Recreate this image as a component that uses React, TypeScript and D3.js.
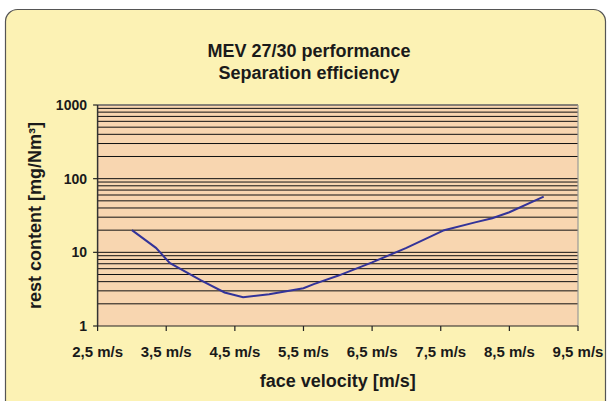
import React from "react";
import * as d3 from "d3";

// face velocity [m/s] vs rest content [mg/Nm³]
const velocity = [3.0, 3.35, 3.55, 4.0, 4.35, 4.62, 5.0, 5.5, 5.65, 6.0, 6.5, 7.0, 7.55, 8.0, 8.25, 8.5, 9.0];
const restContent = [20, 11.5, 7.2, 4.2, 2.85, 2.45, 2.7, 3.25, 3.7, 4.8, 7.3, 11.5, 20, 25.5, 29, 35, 57];

const xTicks = [2.5, 3.5, 4.5, 5.5, 6.5, 7.5, 8.5, 9.5];
const yTicks = [1, 10, 100, 1000];
const titleLines = ["MEV 27/30 performance", "Separation efficiency"];

const W = 610;
const H = 401;
const plot = { left: 97.6, right: 578, top: 105, bottom: 326 };
const font = "Liberation Sans, Arial, Helvetica, sans-serif";

export default function App() {
  const x = d3.scaleLinear().domain([2.5, 9.5]).range([plot.left, plot.right]);
  const y = d3.scaleLog().domain([1, 1000]).range([plot.bottom, plot.top]);

  // minor gridlines 2..9 per decade plus the decades
  const grid: number[] = [];
  for (let k = 0; k < 3; k++) {
    for (let m = 2; m <= 10; m++) grid.push(m * Math.pow(10, k));
  }

  const pts = velocity.map((v, i) => [v, restContent[i]] as [number, number]);
  const line = d3
    .line<[number, number]>()
    .x(d => x(d[0]))
    .y(d => y(d[1]));

  const fmt = (v: number) => String(v).replace(".", ",") + " m/s";

  return (
    <svg
      width={W}
      height={H}
      style={{ position: "absolute", left: 0, top: 0, background: "#fff" }}
      fontFamily={font}
      fontWeight="bold"
    >
      <rect x={5.5} y={9.5} width={600} height={430} rx={12} fill="#FCF2B4" stroke="#555" strokeWidth={1.2} />

      <rect
        x={plot.left}
        y={plot.top}
        width={plot.right - plot.left}
        height={plot.bottom - plot.top}
        fill="#F8D6B0"
      />

      {grid.map(g => (
        <line key={g} x1={plot.left} x2={plot.right} y1={y(g)} y2={y(g)} stroke="#111" strokeWidth={1} />
      ))}

      {/* plot frame: top/right grey, axes dark */}
      <line x1={plot.left} x2={plot.right} y1={plot.top} y2={plot.top} stroke="#888" strokeWidth={1.2} />
      <line x1={plot.right} x2={plot.right} y1={plot.top} y2={plot.bottom} stroke="#999" strokeWidth={1.2} />
      <line x1={plot.left} x2={plot.left} y1={plot.top} y2={plot.bottom} stroke="#333" strokeWidth={1.5} />
      <line x1={plot.left} x2={plot.right} y1={plot.bottom} y2={plot.bottom} stroke="#222" strokeWidth={1.2} />

      {yTicks.map(t => (
        <g key={t}>
          <line x1={plot.left - 4.5} x2={plot.left} y1={y(t)} y2={y(t)} stroke="#222" strokeWidth={1.2} />
          <text x={87} y={y(t)} dy="0.36em" textAnchor="end" fontSize={14} fill="#1a1a1a">
            {t}
          </text>
        </g>
      ))}

      {xTicks.map(t => (
        <g key={t}>
          <line x1={x(t)} x2={x(t)} y1={plot.bottom} y2={plot.bottom + 5} stroke="#222" strokeWidth={1.2} />
          <text x={x(t)} y={357} textAnchor="middle" fontSize={15} fill="#1a1a1a">
            {fmt(t)}
          </text>
        </g>
      ))}

      <path d={line(pts) || ""} fill="none" stroke="#333399" strokeWidth={2} />

      {titleLines.map((t, i) => (
        <text key={t} x={309} y={57 + i * 22} textAnchor="middle" fontSize={18} fill="#1a1a1a">
          {t}
        </text>
      ))}

      <text x={(plot.left + plot.right) / 2} y={387} textAnchor="middle" fontSize={18} fill="#1a1a1a">
        face velocity [m/s]
      </text>

      <text
        transform={`translate(41,${(plot.top + plot.bottom) / 2}) rotate(-90)`}
        textAnchor="middle"
        fontSize={18}
        fill="#1a1a1a"
      >
        rest content [mg/Nm³]
      </text>
    </svg>
  );
}
